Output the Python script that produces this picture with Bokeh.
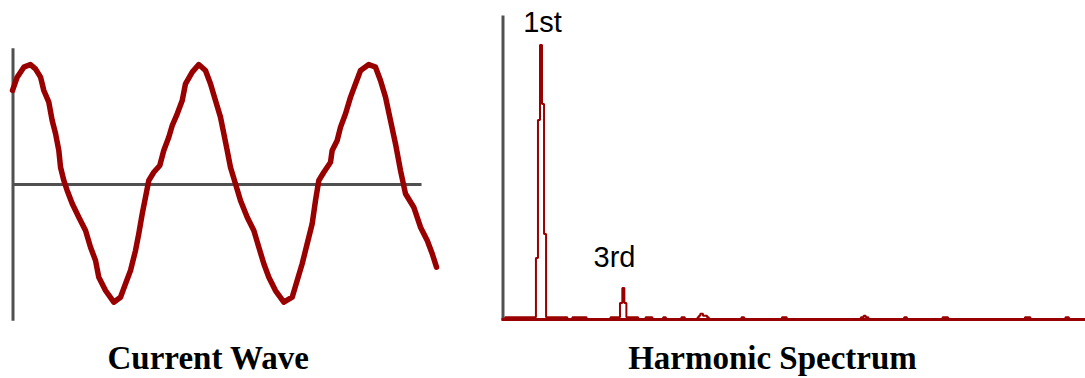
from bokeh.plotting import figure
from bokeh.layouts import row
from bokeh.models import Range1d, Label
from bokeh.embed import file_html
from bokeh.resources import INLINE

# ---------------- data ----------------
# Current wave: time (ms) and current (A)
wave_t = [0.00, 0.46, 1.11, 1.76, 2.25, 2.75, 3.07, 3.56, 3.89, 4.22, 4.54, 4.71,
          5.03, 5.36, 5.85, 6.50, 7.16, 7.65, 8.14, 8.46, 9.12, 9.93, 10.59, 11.08,
          11.57, 12.06, 12.38, 12.72, 13.04, 13.36, 13.85, 14.44, 14.83, 15.32, 15.66,
          16.15, 16.64, 16.96, 17.62, 18.26, 18.92, 19.41, 19.90, 20.39, 20.72, 21.05,
          21.37, 21.86, 22.35, 23.01, 23.66, 24.15, 24.64, 25.13, 25.78, 26.60, 27.42,
          27.91, 28.40, 28.89, 29.38, 29.71, 30.03, 30.52, 31.18, 31.34, 31.83, 32.16,
          32.65, 33.14, 33.63, 34.12, 34.93, 35.59, 36.08, 36.57, 37.06, 37.55, 38.04,
          38.53, 39.34, 40.00, 40.66, 41.15, 41.57]
wave_i = [7.90, 9.02, 9.86, 10.08, 9.72, 9.02, 7.90, 6.92, 5.38, 4.29, 2.86, 1.45,
          0.34, -0.50, -1.60, -2.75, -3.87, -5.27, -6.39, -7.79, -8.91, -9.89, -9.47, -8.34,
          -7.23, -5.55, -4.14, -2.46, -1.07, 0.34, 1.03, 1.60, 2.86, 3.97, 4.96,
          5.94, 7.06, 8.46, 9.44, 10.08, 9.58, 8.46, 7.06, 5.66, 4.26, 2.86,
          1.45, 0.06, -1.34, -2.75, -3.87, -5.27, -6.66, -7.79, -8.91, -9.89, -9.47,
          -8.07, -6.66, -4.98, -3.30, -1.34, 0.34, 1.03, 1.87, 2.86, 3.70, 4.82,
          5.94, 7.34, 8.46, 9.58, 10.08, 9.86, 8.74, 7.34, 5.38, 3.42, 1.18,
          -0.78, -1.91, -3.59, -4.71, -5.82, -6.95]

# Harmonic spectrum: bin start frequency (Hz) and amplitude (% of fundamental)
spec_f = [2, 7, 52.5, 55.5, 58.5, 61.5, 64.5, 67.5, 99, 106.5, 127.5, 163,
          177, 180.5, 183.5, 186.5, 204, 215, 225, 241, 245, 268, 273,
          292, 294, 296, 300, 306, 308.5, 357, 361, 417, 424,
          534, 538, 541, 545, 598, 602, 655, 663, 777, 785, 837, 842, 880]
spec_a = [0, 0.6, 22.3, 72.6, 100, 78.5, 31.0, 0.6, 0, 0.6, 0, 0.6,
          5.8, 11.3, 5.8, 0.6, 0, 0.6, 0, 0.6, 0, 0.6, 0,
          0.6, 1.2, 1.9, 1.2, 0.6, 0, 0.6, 0, 0.6, 0,
          0.6, 1.2, 0.6, 0, 0.6, 0, 0.6, 0, 0.6, 0, 0.6, 0, 0]

harm_labels = ["1st", "3rd"]
harm_freq = [60, 180]

panel_titles = ["Current Wave", "Harmonic Spectrum"]

# ---------------- styling / layout ----------------
RED = "#990000"
GRAY = "#505050"
H = 378
LW, RW = 498, 587

# left panel scales
PX_MS, PX_A = 10.2, 11.9
lx0 = -12 / PX_MS
ly1 = 184 / PX_A
left = figure(width=LW, height=H, output_backend="svg", toolbar_location=None,
              x_range=Range1d(lx0, lx0 + LW / PX_MS),
              y_range=Range1d(ly1 - H / PX_A, ly1),
              x_axis_location=None, y_axis_location=None, min_border=0)
left.grid.visible = False
left.outline_line_color = None

left.segment(x0=[0.05], y0=[-11.45], x1=[0.05], y1=[11.45], line_color=GRAY, line_width=3)
left.segment(x0=[0.0], y0=[0.0], x1=[40.1], y1=[0.0], line_color=GRAY, line_width=3)
left.line(wave_t, wave_i, line_color=RED, line_width=5.5, line_join="round", line_cap="round")
left.add_layout(Label(x=208, y=21, x_units="screen", y_units="screen", text=panel_titles[0],
                      text_font="Liberation Serif", text_font_style="bold",
                      text_font_size="33px", text_align="center",
                      text_baseline="alphabetic", text_color="black"))

# right panel scales
PX_HZ, PX_PCT = 0.675, 2.74
rx0 = -2 / PX_HZ
ry1 = 318.5 / PX_PCT
right = figure(width=RW, height=H, output_backend="svg", toolbar_location=None,
               x_range=Range1d(rx0, rx0 + RW / PX_HZ),
               y_range=Range1d(ry1 - H / PX_PCT, ry1),
               x_axis_location=None, y_axis_location=None, min_border=0)
right.grid.visible = False
right.outline_line_color = None

right.segment(x0=[3.7], y0=[-0.5], x1=[3.7], y1=[110.8], line_color=GRAY, line_width=3)
right.segment(x0=[1.5], y0=[-0.2], x1=[880], y1=[-0.2], line_color=RED, line_width=3)
right.step(spec_f, spec_a, mode="after", line_color=RED, line_width=2)

label_y = [108.3, 22.6]
label_dx = [1.5, -7.5]
for txt, f, yy, dx in zip(harm_labels, harm_freq, label_y, label_dx):
    right.add_layout(Label(x=f, y=yy, x_offset=dx, text=txt, text_font="Liberation Sans",
                           text_font_size="29px", text_align="center",
                           text_baseline="alphabetic", text_color="black"))

right.add_layout(Label(x=274, y=21, x_units="screen", y_units="screen", text=panel_titles[1],
                       text_font="Liberation Serif", text_font_style="bold",
                       text_font_size="33px", text_align="center",
                       text_baseline="alphabetic", text_color="black"))

p = row(left, right, spacing=0)
open("out.html", "w").write(file_html(p, INLINE))
